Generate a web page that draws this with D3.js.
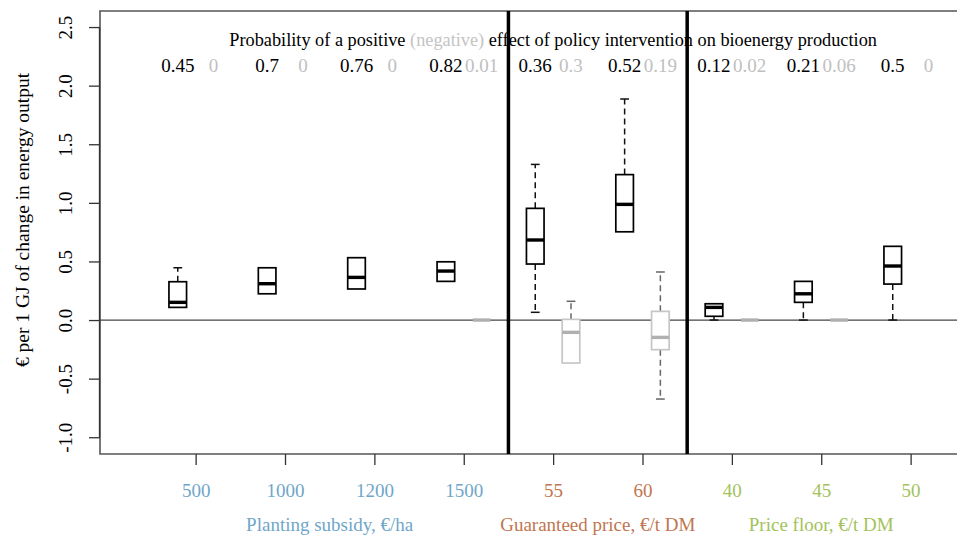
<!DOCTYPE html>
<html><head><meta charset="utf-8">
<script src="https://cdn.jsdelivr.net/npm/d3@7"></script>
<style>body{margin:0;background:#fff}svg{display:block}text{font-family:"Liberation Serif","Times New Roman",serif}</style>
</head><body><svg id="c" width="957" height="535"></svg>
<script>
const categories = ["500","1000","1200","1500","55","60","40","45","50"];
const groupIndex = [0,0,0,0,1,1,2,2,2];
const groups = ["Planting subsidy, \u20ac/ha","Guaranteed price, \u20ac/t DM","Price floor, \u20ac/t DM"];
const groupCenters = [1.5, 4.5, 7];
const groupColors = ["#6fa6c9","#bf7650","#a3c25a"];
const probPositive = ["0.45","0.7","0.76","0.82","0.36","0.52","0.12","0.21","0.5"];
const probNegative = ["0","0","0","0.01","0.3","0.19","0.02","0.06","0"];
// [lower whisker, q1, median, q3, upper whisker]
const positiveBoxes = [
  [0.108,0.108,0.151,0.327,0.446],
  [0.224,0.224,0.310,0.446,0.446],
  [0.265,0.265,0.364,0.532,0.532],
  [0.330,0.330,0.418,0.497,0.497],
  [0.066,0.478,0.683,0.953,1.328],
  [0.753,0.753,0.987,1.241,1.886],
  [0.000,0.032,0.108,0.139,0.139],
  [0.000,0.151,0.224,0.330,0.330],
  [0.000,0.307,0.461,0.629,0.629]
];
const negativeBoxes = [
  null, null, null,
  [0,0,0,0,0],
  [-0.367,-0.367,-0.105,0.006,0.160],
  [-0.674,-0.253,-0.148,0.074,0.410],
  [0,0,0,0,0],
  [0,0,0,0,0],
  null
];
const yTicks = [-1.0,-0.5,0.0,0.5,1.0,1.5,2.0,2.5];
const separators = [3.5, 5.5];
const titleParts = [["Probability of a positive ","#000"],["(negative)","#c4c4c4"],[" effect of policy intervention on bioenergy production","#000"]];
const yTitle = "\u20ac per 1 GJ of change in energy output";

const svg = d3.select("#c");
const L = 100, T = 11, B = 454, R = 957;
const x = d3.scaleLinear().domain([-1.07, 8.519]).range([L, R]);
const y = d3.scaleLinear().domain([-1.143, 2.637]).range([B, T]);
const offset = 0.2, halfW = 0.0985;
const FS = 19;

svg.append("path").attr("d", `M${R+5},${T}H${L}V${B}H${R+5}`)
  .attr("fill","none").attr("stroke","#555").attr("stroke-width",1.6);

svg.append("line").attr("x1",L).attr("x2",R).attr("y1",y(0)).attr("y2",y(0))
  .attr("stroke","#444").attr("stroke-width",1.3);

function drawBox(g, d, cx, pos){
  const col = pos ? "#000" : "#c6c6c6";
  const medCol = pos ? "#000" : "#b0b0b0";
  const whCol = pos ? "#111" : "#666";
  const x0 = x(cx - halfW), x1 = x(cx + halfW), xc = x(cx);
  const capHalf = (x1 - x0) / 4;
  if (d[4] > d[3]) {
    g.append("line").attr("x1",xc).attr("x2",xc).attr("y1",y(d[3])).attr("y2",y(d[4]))
      .attr("stroke",whCol).attr("stroke-width",1.5).attr("stroke-dasharray","6,4");
    g.append("line").attr("x1",xc-capHalf).attr("x2",xc+capHalf).attr("y1",y(d[4])).attr("y2",y(d[4]))
      .attr("stroke",whCol).attr("stroke-width",1.5);
  }
  if (d[0] < d[1]) {
    g.append("line").attr("x1",xc).attr("x2",xc).attr("y1",y(d[1])).attr("y2",y(d[0]))
      .attr("stroke",whCol).attr("stroke-width",1.5).attr("stroke-dasharray","6,4");
    g.append("line").attr("x1",xc-capHalf).attr("x2",xc+capHalf).attr("y1",y(d[0])).attr("y2",y(d[0]))
      .attr("stroke",whCol).attr("stroke-width",1.5);
  }
  g.append("rect").attr("x",x0).attr("width",x1-x0).attr("y",y(d[3])).attr("height",Math.max(0,y(d[1])-y(d[3])))
    .attr("fill","#fff").attr("stroke",col).attr("stroke-width",1.7);
  g.append("line").attr("x1",x0).attr("x2",x1).attr("y1",y(d[2])).attr("y2",y(d[2]))
    .attr("stroke",medCol).attr("stroke-width",3.4);
}
const boxes = svg.append("g");
categories.forEach((c,i)=>{
  if (positiveBoxes[i]) drawBox(boxes, positiveBoxes[i], i - offset, true);
  if (negativeBoxes[i]) drawBox(boxes, negativeBoxes[i], i + offset, false);
});

svg.selectAll(".sep").data(separators).join("line")
  .attr("x1",d=>x(d)).attr("x2",d=>x(d)).attr("y1",T).attr("y2",B)
  .attr("stroke","#000").attr("stroke-width",3.5);

const fmt = d3.format(".1f");
const yAxis = d3.axisLeft(y).tickValues(yTicks).tickSize(11).tickFormat(d=>fmt(d).replace("\u2212","-"));
const ya = svg.append("g").attr("transform",`translate(${L},0)`).call(yAxis);
ya.select(".domain").attr("d",`M-0.5,${y(yTicks[yTicks.length-1])}V${y(yTicks[0])}`).attr("stroke","#333").attr("stroke-width",1.3);
ya.selectAll(".tick line").attr("stroke","#333").attr("stroke-width",1.3);
ya.selectAll(".tick text").attr("font-size",FS).attr("font-family","Liberation Serif").attr("fill","#000")
  .attr("x",0).attr("dy",0).attr("text-anchor","middle")
  .attr("transform","translate(-28,0) rotate(-90)");

const xAxis = d3.axisBottom(x).tickValues(d3.range(categories.length)).tickSize(11).tickFormat(i=>categories[i]);
const xa = svg.append("g").attr("transform",`translate(0,${B})`).call(xAxis);
xa.select(".domain").remove();
xa.selectAll(".tick line").attr("stroke","#333").attr("stroke-width",1.3);
xa.selectAll(".tick text").attr("font-size",FS).attr("font-family","Liberation Serif")
  .attr("fill",i=>groupColors[groupIndex[i]]).attr("y",43).attr("dy",0);

svg.selectAll(".grp").data(groups).join("text")
  .attr("x",(d,i)=>x(groupCenters[i])).attr("y",531).attr("text-anchor","middle")
  .attr("font-size",FS).attr("fill",(d,i)=>groupColors[i]).text(d=>d);

const tt = svg.append("text").attr("x",x(4.0)).attr("y",46).attr("text-anchor","middle").attr("font-size",18.3);
titleParts.forEach(p=>tt.append("tspan").attr("fill",p[1]).text(p[0]));

svg.selectAll(".pp").data(probPositive).join("text")
  .attr("x",(d,i)=>x(i-offset)).attr("y",72).attr("text-anchor","middle").attr("font-size",FS).attr("fill","#000").text(d=>d);
svg.selectAll(".pn").data(probNegative).join("text")
  .attr("x",(d,i)=>x(i+offset)).attr("y",72).attr("text-anchor","middle").attr("font-size",FS).attr("fill","#c0c0c0").text(d=>d);

svg.append("text").attr("transform",`translate(29,${220}) rotate(-90)`).attr("text-anchor","middle")
  .attr("font-size",19.5).attr("fill","#000").text(yTitle);
</script></body></html>
